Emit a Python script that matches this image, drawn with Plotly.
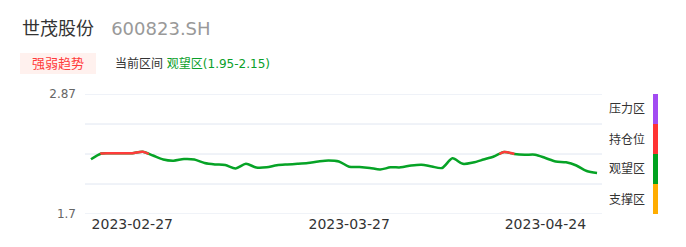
import plotly.graph_objects as go

# ---- data ----
values = [2.233, 2.290, 2.292, 2.292, 2.292, 2.307, 2.270, 2.231, 2.220, 2.236,
          2.231, 2.197, 2.183, 2.178, 2.144, 2.190, 2.153, 2.155, 2.175, 2.183,
          2.189, 2.197, 2.212, 2.222, 2.212, 2.161, 2.158, 2.149, 2.134, 2.155,
          2.155, 2.173, 2.181, 2.163, 2.149, 2.243, 2.189, 2.202, 2.231, 2.261,
          2.305, 2.285, 2.277, 2.278, 2.246, 2.212, 2.204, 2.173, 2.119, 2.100]
tick_idx = [4, 25, 44]
tick_labels = ["2023-02-27", "2023-03-27", "2023-04-24"]
y_min, y_max = 1.7, 2.87
zone_names = ["支撑区", "观望区", "持仓位", "压力区"]
zone_colors = ["#ffad00", "#00a21f", "#ff3333", "#a24bf2"]
title_name = "世茂股份"
title_code = "600823.SH"
badge = "强弱趋势"
cur_label = "当前区间"
cur_zone = "观望区(1.95-2.15)"

GREEN = "#06a326"
RED = "#ff3b3b"
FONT = "DejaVu Sans, Noto Sans CJK SC, sans-serif"

step = (y_max - y_min) / 4
bounds = [y_min + k * step for k in range(5)]
red_thr = bounds[2]

x = list(range(len(values)))

# red segments: portions above threshold, with linear crossing points
red_x, red_y = [], []
for i in range(len(values)):
    v = values[i]
    if i > 0:
        pv = values[i - 1]
        if (pv - red_thr) * (v - red_thr) < 0:
            t = (red_thr - pv) / (v - pv)
            cx = i - 1 + t
            red_x.append(cx); red_y.append(red_thr)
            if v < red_thr:
                red_x.append(None); red_y.append(None)
    if v >= red_thr:
        red_x.append(i); red_y.append(v)

fig = go.Figure()

# grid lines (including the edges)
for b in bounds:
    fig.add_shape(type="line", xref="paper", yref="y", x0=0, x1=1, y0=b, y1=b,
                  line=dict(color="#e0e6f1", width=1), layer="below")

fig.add_trace(go.Scatter(x=x, y=values, mode="lines",
                         line=dict(color=GREEN, width=2.5, shape="spline", smoothing=0.8),
                         hoverinfo="skip", showlegend=False))
fig.add_trace(go.Scatter(x=red_x, y=red_y, mode="lines",
                         line=dict(color=RED, width=2.5, shape="spline", smoothing=0.8),
                         connectgaps=False, hoverinfo="skip", showlegend=False))

# zone colour bar on right + labels
for k in range(4):
    fig.add_shape(type="rect", xref="paper", yref="y",
                  x0=1.0986, x1=1.1083, y0=bounds[k], y1=bounds[k + 1],
                  fillcolor=zone_colors[k], line=dict(width=0), layer="above")
    fig.add_annotation(xref="paper", yref="y", x=1.0097, y=(bounds[k] + bounds[k + 1]) / 2,
                       text=zone_names[k], showarrow=False, xanchor="left", yanchor="middle",
                       font=dict(size=12, color="#333333", family=FONT))

# header
fig.add_annotation(xref="paper", yref="paper", x=(20 - 85) / 517, y=(214 - 29) / 120,
                   text=f"<span style='color:#333333'>{title_name}</span>"
                        f"&nbsp;&nbsp;&nbsp;<span style='color:#999999'>{title_code}</span>",
                   showarrow=False, xanchor="left", yanchor="middle",
                   font=dict(size=18, family=FONT))
fig.add_shape(type="rect", xref="paper", yref="paper",
              x0=(20 - 85) / 517, x1=(96 - 85) / 517,
              y0=(214 - 74) / 120, y1=(214 - 53) / 120,
              fillcolor="#fff1ee", line=dict(width=0))
fig.add_annotation(xref="paper", yref="paper", x=(58 - 85) / 517, y=(214 - 63.5) / 120,
                   text=badge, showarrow=False, xanchor="center", yanchor="middle",
                   font=dict(size=13, color=RED, family=FONT))
fig.add_annotation(xref="paper", yref="paper", x=(113 - 85) / 517, y=(214 - 63.5) / 120,
                   text=f"<span style='color:#333333'>{cur_label}</span> "
                        f"<span style='color:#0aa02a'>{cur_zone}</span>",
                   showarrow=False, xanchor="left", yanchor="middle",
                   font=dict(size=12, family=FONT))

fig.update_layout(
    width=686, height=247,
    margin=dict(l=85, r=84, t=94, b=33),
    paper_bgcolor="white", plot_bgcolor="white",
    font=dict(family=FONT),
    xaxis=dict(range=[-0.58, 49.48], tickmode="array", tickvals=tick_idx, ticktext=tick_labels,
               showgrid=False, zeroline=False, showline=False, ticks="",
               tickfont=dict(size=14, color="#333333"), fixedrange=True),
    yaxis=dict(range=[y_min, y_max], tickmode="array", tickvals=bounds,
               ticktext=[f"{y_min:g}", "", "", "", f"{y_max:g}"],
               showgrid=False, zeroline=False,
               showline=False, ticks="", ticklabelstandoff=8,
               tickfont=dict(size=12, color="#666666"), fixedrange=True),
)

fig.write_html("out.html")
